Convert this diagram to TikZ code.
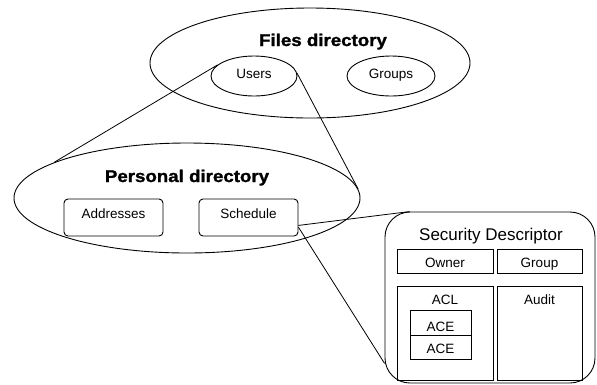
\documentclass[tikz,border=0pt]{standalone}
\usepackage{fontspec}
\setmainfont{Liberation Sans}
\usetikzlibrary{shapes.geometric,calc}

\tikzset{
  outline/.style={draw=black, line width=0.9pt},
  oval/.style={outline, ellipse, inner sep=0pt},
  roundbox/.style={outline, rectangle, rounded corners=4pt, inner sep=0pt},
  plainbox/.style={outline, rectangle, inner sep=0pt},
  link/.style={draw=black, line width=0.8pt},
  heading/.style={anchor=base, inner sep=0pt,
    font=\fontsize{17}{17}\selectfont\bfseries\addfontfeature{FakeBold=1.3}},
  caption/.style={anchor=base, inner sep=0pt, font=\fontsize{13.5}{13.5}\selectfont},
  bigcaption/.style={anchor=base, inner sep=0pt, font=\fontsize{17}{17}\selectfont},
}

\begin{document}
\begin{tikzpicture}[x=1pt, y=-1pt]
  \useasboundingbox[fill=white] (0,0) rectangle (597,384);

  % Files directory with its two entries
  \node[oval, minimum width=320pt, minimum height=110pt] (files) at (310,63) {};
  \node[heading] (filest) at (323,46) {\scalebox{1.1}[1]{Files directory}};
  \node[oval, minimum width=86pt, minimum height=40pt] (users) at (254,76) {};
  \node[caption] (userst) at (254,78) {Users};
  \node[oval, minimum width=88pt, minimum height=40pt] (groups) at (391,76) {};
  \node[caption] (groupst) at (391,78) {Groups};

  % Personal directory
  \node[oval, minimum width=346pt, minimum height=110pt] (personal) at (187,198) {};
  \node[heading] (personalt) at (187,182) {\scalebox{1.1}[1]{Personal directory}};
  \node[roundbox, minimum width=99pt, minimum height=37pt] (addr) at (113.5,217.5) {};
  \node[caption] (addrt) at (113.5,218) {Addresses};
  \node[roundbox, minimum width=99pt, minimum height=37pt] (sched) at (248.5,217.5) {};
  \node[caption] (schedt) at (248.5,218) {Schedule};

  % Security descriptor
  \node[outline, rectangle, rounded corners=25pt, inner sep=0pt,
        minimum width=210pt, minimum height=171pt] (sd) at (490,297.5) {};
  \node[bigcaption] (sdt) at (491,240) {Security Descriptor};
  \node[plainbox, minimum width=96pt, minimum height=24pt] (owner) at (445,261) {};
  \node[caption] (ownert) at (445,267) {Owner};
  \node[plainbox, minimum width=85pt, minimum height=24pt] (group) at (539.5,261) {};
  \node[caption] (groupt) at (539.5,267) {Group};
  \node[plainbox, minimum width=96pt, minimum height=94pt] (acl) at (445,333) {};
  \node[caption] (aclt) at (445,304) {ACL};
  \node[plainbox, minimum width=85pt, minimum height=94pt] (audit) at (539.5,333) {};
  \node[caption] (auditt) at (539.5,304) {Audit};
  \node[plainbox, minimum width=61pt, minimum height=25pt] (ace1) at (440.5,322.5) {};
  \node[caption] (ace1t) at (440.5,331) {ACE};
  \node[plainbox, minimum width=61pt, minimum height=24pt] (ace2) at (440.5,347) {};
  \node[caption] (ace2t) at (440.5,353) {ACE};

  % Zoom lines
  \draw[link] (users.163) -- (personal.165.5);
  \draw[link] (users.4) -- (personal.3.3);
  \draw[link] (sched.-9) -- ($(sd.north west)+(25,0)$);
  \draw[link] (sched.-11) -- (sd.212);
\end{tikzpicture}
\end{document}
